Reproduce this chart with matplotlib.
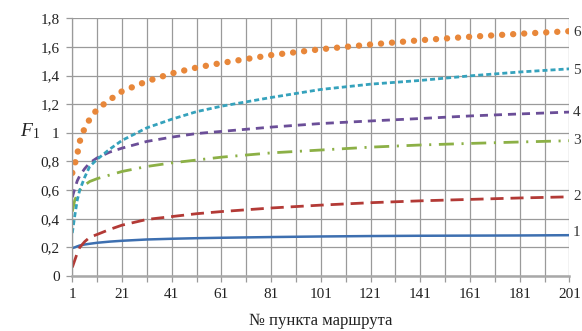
import matplotlib
matplotlib.use("Agg")
import matplotlib.pyplot as plt

plt.rcParams['font.family'] = ['Liberation Serif', 'DejaVu Serif']
plt.rcParams['mathtext.fontset'] = 'custom'
plt.rcParams['mathtext.rm'] = 'Liberation Serif'
plt.rcParams['mathtext.it'] = 'Liberation Serif:italic'
plt.rcParams['lines.scale_dashes'] = False

# route point numbers where the curves were read
x = [1, 2, 3, 4, 6, 8, 11, 16, 21, 31, 41, 51, 61, 81, 101, 121, 141, 161, 181, 201]

s1 = [0.195, 0.2, 0.207, 0.213, 0.22, 0.225, 0.232, 0.24, 0.246, 0.255, 0.26, 0.264, 0.267, 0.272,
      0.276, 0.279, 0.281, 0.282, 0.283, 0.285]
s2 = [0.06, 0.11, 0.16, 0.2, 0.24, 0.27, 0.29, 0.325, 0.355, 0.395, 0.415, 0.435, 0.45, 0.475,
      0.495, 0.512, 0.525, 0.535, 0.545, 0.553]
s3 = [0.45, 0.53, 0.57, 0.6, 0.635, 0.66, 0.68, 0.705, 0.73, 0.765, 0.79, 0.81, 0.83, 0.86,
      0.88, 0.9, 0.915, 0.926, 0.936, 0.945]
s4 = [0.55, 0.61, 0.665, 0.7, 0.75, 0.79, 0.825, 0.865, 0.893, 0.94, 0.97, 0.995, 1.01, 1.04,
      1.065, 1.083, 1.1, 1.118, 1.132, 1.145]
s5 = [0.3, 0.42, 0.53, 0.6, 0.69, 0.765, 0.815, 0.885, 0.947, 1.035, 1.095, 1.148, 1.186, 1.247,
      1.303, 1.34, 1.366, 1.398, 1.425, 1.447]
s6 = [0.72, 0.78, 0.85, 0.94, 1.035, 1.095, 1.165, 1.23, 1.29, 1.36, 1.415, 1.456, 1.488, 1.543,
      1.584, 1.617, 1.647, 1.671, 1.692, 1.71]

xticks = [1, 21, 41, 61, 81, 101, 121, 141, 161, 181, 201]
yticks = [0, 0.2, 0.4, 0.6, 0.8, 1.0, 1.2, 1.4, 1.6, 1.8]
ylabels = ['0', '0,2', '0,4', '0,6', '0,8', '1', '1,2', '1,4', '1,6', '1,8']

fig = plt.figure(figsize=(5.82, 3.31), dpi=100)
ax = fig.add_axes([0.1242, 0.1662, 0.8543, 0.7785])

ax.plot(x, s1, color='#3D6FB0', lw=1.8, solid_capstyle='butt')
ax.plot(x, s2, color='#B33A36', lw=2.0, dashes=(9.4, 5))
ax.plot(x, s3, color='#8CB046', lw=2.0, dashes=(10.8, 5.5, 1.5, 5.5))
ax.plot(x, s4, color='#6B4E98', lw=2.0, dashes=(5.8, 4.3))
ax.plot(x, s5, color='#35A2BC', lw=2.0, dashes=(3.6, 2.2))
ax.plot(x, s6, color='#E8873A', lw=4.6, dashes=(0.05, 7.9), dash_capstyle='round')

ax.set_xlim(1, 201)
ax.set_ylim(0, 1.8)
ax.set_xticks(range(1, 202, 10))
ax.set_xticklabels([str(v) if v in xticks else '' for v in range(1, 202, 10)])
ax.set_yticks(yticks)
ax.set_yticklabels(ylabels)
ax.grid(True, color='#9a9a9a', lw=0.9)
ax.set_axisbelow(True)
ax.tick_params(direction='out', length=4, width=0.9, color='#9a9a9a', labelsize=11,
               labelcolor='#222222', pad=5)
for side in ['top', 'right']:
    ax.spines[side].set_visible(False)
ax.spines['left'].set_color('#9a9a9a')
ax.spines['left'].set_linewidth(0.9)
ax.spines['bottom'].set_color('#a8a8a8')
ax.spines['bottom'].set_linewidth(1.8)

ax.set_xlabel('№ пункта маршрута', fontsize=12, color='#222222', labelpad=8)
fig.text(20 / 582, 1 - 131 / 331, '$F_1$', fontsize=14, color='#222222', va='center', ha='left')

# curve numbers at the right edge
for lab, ypx in zip(['6', '5', '4', '3', '2', '1'], [32, 70, 113, 141, 197, 232]):
    fig.text(573 / 582, 1 - ypx / 331, lab, fontsize=11, color='#333333', va='center', ha='left')

fig.savefig('out.png', dpi=100)
